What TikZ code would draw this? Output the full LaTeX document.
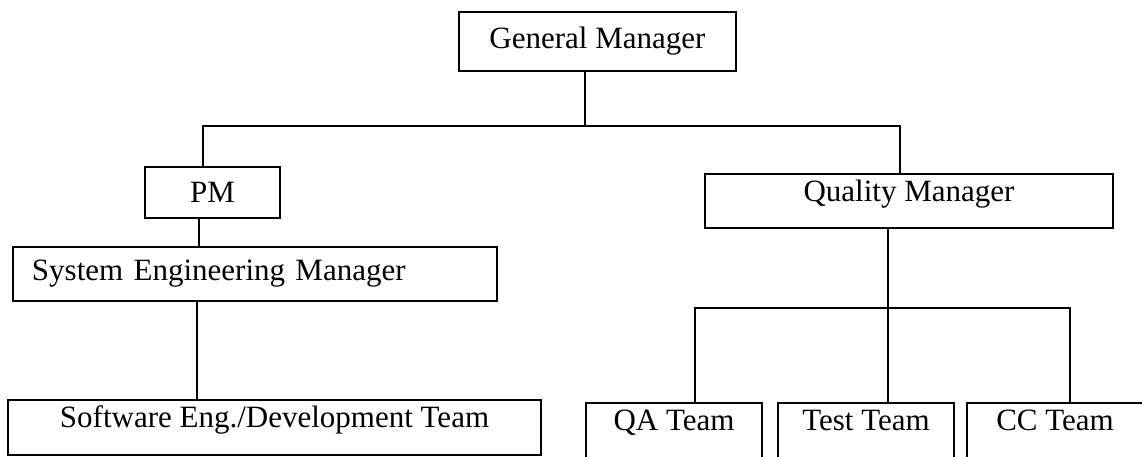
\documentclass[tikz,border=0pt]{standalone}
\usepackage{fontspec}
\setmainfont{Liberation Serif}
\begin{document}
\begin{tikzpicture}[x=0.5pt,y=-0.5pt]
    \tikzstyle{box}=[draw=black, line width=1.2pt, inner sep=0pt, font=\fontsize{15.5}{18}\selectfont]
    \tikzstyle{line}=[line width=1pt]
    \tikzstyle{team}=[box, minimum width=88pt, text height=13.75pt, text depth=13.75pt]
    \clip (0,0) rectangle (1142,456);
    % boxes
    \node[box, minimum width=138.5pt, minimum height=29.5pt] (gm) at (597.5,41.5) {General Manager};
    \node[box, minimum width=67.5pt, minimum height=25.5pt] (pm) at (212.5,192.5) {PM};
    \node[box, minimum width=242pt, minimum height=27pt, text width=223pt, align=left] (sem) at (255,274) {System Engineering Manager};
    \node[box, minimum width=266.5pt, text height=13.75pt, text depth=13.75pt] (sw) at (274.5,427.5) {Software Eng./Development Team};
    \node[box, minimum width=204pt, text height=13.5pt, text depth=13.5pt] (qm) at (909,201) {Quality Manager};
    \node[team] (qa) at (674,430.5) {QA Team};
    \node[team] (test) at (866,430.5) {Test Team};
    \node[team] (cc) at (1055,430.5) {CC Team};
    % joints
    \coordinate (j0) at (585,126);
    \coordinate (jl) at (203,126);
    \coordinate (jr) at (900,126);
    \coordinate (k1) at (199,0);
    \coordinate (k2) at (197,0);
    \coordinate (jq) at (888,308);
    \coordinate (ja) at (695,308);
    \coordinate (jc) at (1070,308);
    % lines
    \draw[line] (gm.south -| j0) -- (j0);
    \draw[line] (pm.north -| jl) -- (jl) -- (jr) -- (qm.north -| jr);
    \draw[line] (pm.south -| k1) -- (sem.north -| k1);
    \draw[line] (sem.south -| k2) -- (sw.north -| k2);
    \draw[line] (qm.south -| jq) -- (test.north -| jq);
    \draw[line] (qa.north -| ja) -- (ja) -- (jc) -- (cc.north -| jc);
\end{tikzpicture}
\end{document}
